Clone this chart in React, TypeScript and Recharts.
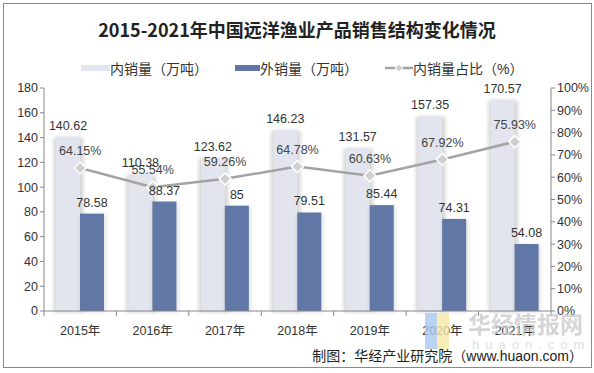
import React from 'react';
import { ComposedChart, Bar, Line, XAxis, YAxis, LabelList } from 'recharts';

const years = ['2015年', '2016年', '2017年', '2018年', '2019年', '2020年', '2021年'];
const domestic = [140.62, 110.38, 123.62, 146.23, 131.57, 157.35, 170.57];
const exportSales = [78.58, 88.37, 85, 79.51, 85.44, 74.31, 54.08];
const domesticShare = [64.15, 55.54, 59.26, 64.78, 60.63, 67.92, 75.93];
const leftTicks = [0, 20, 40, 60, 80, 100, 120, 140, 160, 180];
const rightTicks = [0, 10, 20, 30, 40, 50, 60, 70, 80, 90, 100];

const seriesNames = ['内销量（万吨）', '外销量（万吨）', '内销量占比（%）'];

const data = years.map((year, i) => ({
  year,
  domestic: domestic[i],
  exportSales: exportSales[i],
  share: domesticShare[i],
}));

const LIGHT = '#e2e5ee';
const DARK = '#6177a5';
const LINE = '#a3a3a3';
const FONT = 'Arial, "Liberation Sans", "Noto Sans CJK SC", sans-serif';

const LightBar = (props: any) => {
  const { x, y, width, height } = props;
  return (
    <g>
      <rect x={x - 2} y={y + 1} width={width + 5} height={height} fill="#000" opacity={0.18} filter="url(#barShadow)" />
      <rect x={x} y={y} width={width} height={height} fill={LIGHT} />
    </g>
  );
};

const DarkBar = (props: any) => {
  const { x, y, width, height } = props;
  return (
    <g>
      <rect x={x} y={y + 1} width={width + 2} height={height} fill="#000" opacity={0.12} filter="url(#barShadow)" />
      <rect x={x} y={y} width={width} height={height} fill={DARK} />
    </g>
  );
};

const Diamond = (props: any) => {
  const { cx, cy } = props;
  const r = 6;
  return (
    <polygon
      points={`${cx},${cy - r} ${cx + r},${cy} ${cx},${cy + r} ${cx - r},${cy}`}
      fill="#cfcfcf"
      stroke="#fff"
      strokeWidth={1.5}
    />
  );
};

const YearTick = (props: any) => {
  const { x, y, payload } = props;
  const half = payload && payload.offset ? payload.offset : 36.2;
  return (
    <g>
      <line x1={x - half} y1={y - 8} x2={x - half} y2={y - 3} stroke="#868686" />
      {payload.index === years.length - 1 && (
        <line x1={x + half} y1={y - 8} x2={x + half} y2={y - 3} stroke="#868686" />
      )}
      <text x={x} y={y + 16} textAnchor="middle" fontSize={12.5} fill="#333" fontFamily={FONT}>
        {payload.value}
      </text>
    </g>
  );
};

const Legend = () => (
  <div
    style={{
      position: 'absolute',
      top: 58,
      left: 81,
      display: 'flex',
      alignItems: 'center',
      fontSize: 14,
      color: '#333',
      fontFamily: FONT,
      whiteSpace: 'nowrap',
    }}
  >
    <span style={{ width: 29, height: 6, background: LIGHT, display: 'inline-block' }} />
    <span style={{ marginRight: 27 }}>{seriesNames[0]}</span>
    <span style={{ width: 25, height: 6, background: DARK, display: 'inline-block' }} />
    <span style={{ marginRight: 27 }}>{seriesNames[1]}</span>
    <svg width={28} height={10}>
      <line x1={0} y1={5} x2={28} y2={5} stroke={LINE} strokeWidth={2.5} />
      <polygon points="14,1 18,5 14,9 10,5" fill="#cfcfcf" stroke="#fff" />
    </svg>
    <span>{seriesNames[2]}</span>
  </div>
);

export default function App() {
  return (
    <div style={{ position: 'absolute', top: 0, left: 0, width: 594, height: 373, background: '#fff' }}>
      <div
        style={{
          position: 'absolute',
          left: 3,
          top: 3,
          width: 587,
          height: 363,
          border: '1px solid #8a8a8a',
        }}
      />
      <div
        style={{
          position: 'absolute',
          top: 17,
          left: 0,
          width: 594,
          textAlign: 'center',
          fontSize: 18,
          fontWeight: 'bold',
          color: '#222',
          fontFamily: '"Noto Sans CJK SC", sans-serif',
          lineHeight: '24px',
        }}
      >
        2015-2021年中国远洋渔业产品销售结构变化情况
      </div>
      <Legend />
      <div style={{ position: 'absolute', top: 0, left: 0 }}>
        <ComposedChart
          width={594}
          height={373}
          data={data}
          margin={{ top: 88, right: 3, bottom: 32, left: 4 }}
          barGap={0}
          barSize={24}
        >
          <defs>
            <filter id="barShadow" x="-50%" y="-10%" width="200%" height="120%">
              <feGaussianBlur stdDeviation="2" />
            </filter>
          </defs>
          <XAxis
            dataKey="year"
            axisLine={{ stroke: '#868686' }}
            tickLine={false}
            tick={<YearTick />}
            height={30}
            interval={0}
          />
          <YAxis
            yAxisId="left"
            domain={[0, 180]}
            ticks={leftTicks}
            axisLine={{ stroke: '#868686' }}
            tickLine={{ stroke: '#868686' }}
            tickSize={4}
            tick={{ fontSize: 12.5, fill: '#333', fontFamily: FONT }}
            width={40}
          />
          <YAxis
            yAxisId="right"
            orientation="right"
            domain={[0, 100]}
            ticks={rightTicks}
            tickFormatter={(v: number) => `${v}%`}
            axisLine={{ stroke: '#868686' }}
            tickLine={{ stroke: '#868686' }}
            tickSize={4}
            tick={{ fontSize: 12.5, fill: '#333', fontFamily: FONT }}
            width={40}
          />
          <Bar yAxisId="left" dataKey="domestic" name={seriesNames[0]} fill={LIGHT} shape={<LightBar />} isAnimationActive={false}>
            <LabelList dataKey="domestic" position="top" offset={7} fontSize={12.5} fill="#333" fontFamily={FONT} />
          </Bar>
          <Bar yAxisId="left" dataKey="exportSales" name={seriesNames[1]} fill={DARK} shape={<DarkBar />} isAnimationActive={false}>
            <LabelList dataKey="exportSales" position="top" offset={7} fontSize={12.5} fill="#333" fontFamily={FONT} />
          </Bar>
          <Line
            yAxisId="right"
            dataKey="share"
            name={seriesNames[2]}
            stroke={LINE}
            strokeWidth={2.5}
            dot={<Diamond />}
            activeDot={false}
            isAnimationActive={false}
          >
            <LabelList
              dataKey="share"
              position="top"
              offset={13}
              formatter={(v: any) => `${v}%`}
              fontSize={12.5}
              fill="#444"
              fontFamily={FONT}
            />
          </Line>
        </ComposedChart>
      </div>
      <div
        style={{
          position: 'absolute',
          top: 313,
          left: 425,
          width: 12,
          height: 36,
          background: '#a9c8ec',
          opacity: 0.8,
        }}
      />
      <div
        style={{
          position: 'absolute',
          top: 313,
          left: 437,
          width: 12,
          height: 36,
          background: '#f6e7a8',
          opacity: 0.8,
        }}
      />
      <div
        style={{
          position: 'absolute',
          top: 309,
          left: 468,
          fontSize: 23,
          fontWeight: 'bold',
          color: '#c8c8c8',
          opacity: 0.75,
          fontFamily: '"Noto Sans CJK SC", sans-serif',
          lineHeight: '28px',
        }}
      >
        华经情报网
      </div>
      <div
        style={{
          position: 'absolute',
          top: 337,
          left: 472,
          fontSize: 13,
          letterSpacing: 6,
          color: '#dedede',
          fontFamily: FONT,
        }}
      >
        huaon.com
      </div>
      <div
        style={{
          position: 'absolute',
          top: 346,
          right: 11,
          fontSize: 14,
          color: '#222',
          fontFamily: FONT,
          lineHeight: '20px',
        }}
      >
        制图：华经产业研究院（www.huaon.com）
      </div>
    </div>
  );
}
